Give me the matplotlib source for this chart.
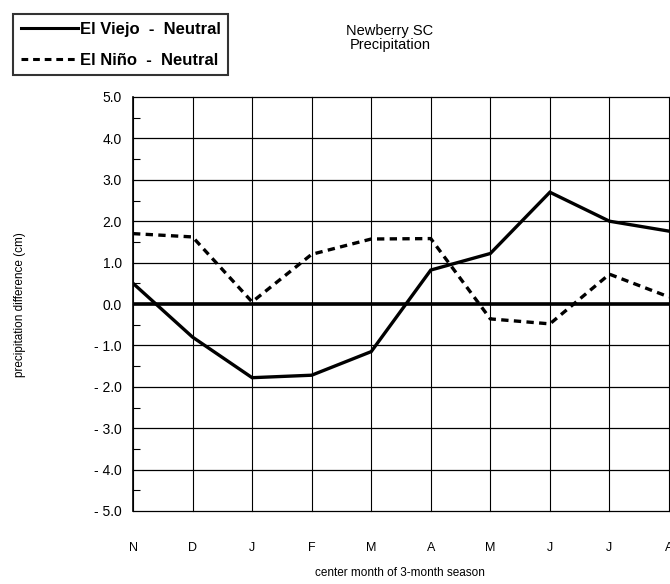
import numpy as np
import matplotlib.pyplot as plt
from matplotlib.lines import Line2D

# center month of each 3-month season
months = ['N', 'D', 'J', 'F', 'M', 'A', 'M', 'J', 'J', 'A']

# precipitation difference (cm) relative to neutral years
el_viejo = [0.50, -0.80, -1.78, -1.72, -1.15, 0.82, 1.22, 2.70, 2.00, 1.76]
el_nino = [1.70, 1.62, 0.05, 1.20, 1.57, 1.58, -0.36, -0.48, 0.72, 0.17]

y_ticks = [5, 4, 3, 2, 1, 0, -1, -2, -3, -4, -5]

plt.rcParams['font.family'] = ['Liberation Sans', 'DejaVu Sans']

fig = plt.figure(figsize=(6.7, 5.84), dpi=100)
ax = fig.add_axes([133 / 670, 1 - 511 / 584, (669 - 133) / 670, (511 - 97) / 584])

x = np.arange(len(months))

# grid
for xi in x:
    ax.axvline(xi, color='black', lw=0.8, zorder=1, clip_on=False)
for yv in y_ticks:
    ax.axhline(yv, color='black', lw=0.9, zorder=1, clip_on=False)
ax.axhline(0, color='black', lw=2.6, zorder=2)

ax.plot(x, el_viejo, color='black', lw=2.4, solid_joinstyle='miter', zorder=3)
ax.plot(x, el_nino, color='black', lw=2.4, linestyle=(0, (2.2, 1.6)), zorder=3)

ax.set_xlim(0, 9)
ax.set_ylim(-5, 5)
ax.set_xticks(x)
ax.set_xticklabels(months, fontsize=9)
ax.set_yticks(y_ticks)
ax.set_yticklabels([f'{v:.1f}'.replace('-', '- ') for v in y_ticks], fontsize=10)
ax.set_yticks(np.arange(-4.5, 5, 1.0), minor=True)
ax.tick_params(axis='x', length=0, pad=22)
ax.tick_params(axis='y', which='major', length=0, pad=8)
ax.tick_params(axis='y', which='minor', direction='in', length=5, width=0.8)

for side in ['top', 'right', 'bottom', 'left']:
    ax.spines[side].set_visible(False)
ax.spines['left'].set_visible(True)
ax.spines['left'].set_linewidth(1.2)

fig.text(390 / 670, 1 - 38 / 584, 'Newberry SC\nPrecipitation', ha='center', va='center',
         fontsize=10.5, linespacing=0.95)
fig.text(20 / 670, 1 - 305 / 584, 'precipitation difference (cm)', rotation=90,
         ha='center', va='center', fontsize=8.5)
fig.text(400 / 670, 1 - 573 / 584, 'center month of 3-month season', ha='center',
         va='center', fontsize=8.5)

handles = [Line2D([], [], color='black', lw=2.2),
           Line2D([], [], color='black', lw=2.2, linestyle=(0, (2.2, 1.6)))]
leg = fig.legend(handles, ['El Viejo  -  Neutral', 'El Niño  -  Neutral'],
                 loc='upper left', bbox_to_anchor=(5 / 670, 1 - 6 / 584),
                 frameon=True, fancybox=False, edgecolor='black',
                 handlelength=3.4, handletextpad=0.15, borderpad=0.45,
                 labelspacing=0.95, prop={'weight': 'bold', 'size': 12})
leg.get_frame().set_linewidth(1.5)

fig.savefig('out.png', dpi=100)
